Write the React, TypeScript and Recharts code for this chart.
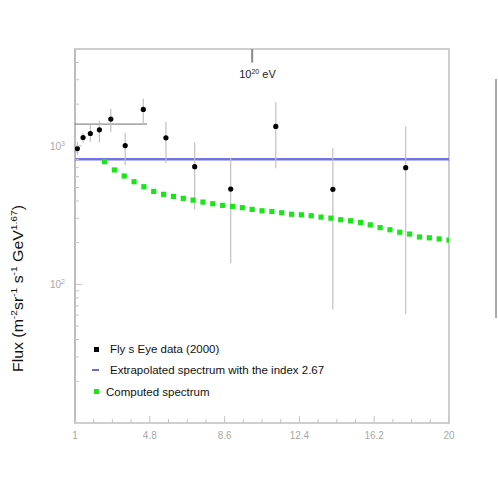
import { ComposedChart, Scatter, XAxis, YAxis, ErrorBar, ReferenceLine, ReferenceArea, Label } from "recharts"

// energy in units of 10^19 eV
const flyEnergy = [1.12, 1.41, 1.78, 2.24, 2.82, 3.55, 4.47, 5.62, 7.08, 8.91, 11.2, 14.1, 17.8]
const flyFlux = [956, 1149, 1228, 1306, 1561, 1005, 1833, 1143, 708, 488, 1380, 486, 696]
const flyLow = [861, 1051, 1069, 1057, 1263, 728, 1427, 749, 348, 142, 689, 66, 61]
const flyHigh = [1069, 1242, 1419, 1517, 1846, 1242, 2190, 1485, 1064, 823, 2060, 967, 1380]

const computedEnergy = [
  2.5, 3, 3.5, 4, 4.5, 5, 5.5, 6, 6.5, 7, 7.5, 8, 8.5, 9, 9.5, 10, 10.5, 11,
  11.5, 12, 12.5, 13, 13.5, 14, 14.5, 15, 15.5, 16, 16.5, 17, 17.5, 18, 18.5, 19, 19.5, 20,
]
const computedFlux = [
  769, 670, 606, 551, 507, 469, 447, 432, 418, 406, 393, 382, 372, 366, 358, 348, 340, 336,
  329, 321, 318, 313, 306, 301, 293, 288, 280, 269, 257, 248, 238, 231, 220, 217, 213, 209,
]

const extrapolatedFlux = 800
const oldFlux = 1436
const oldFluxEnd = 4.66
const markEnergy = 10

const xTicks = [1, 1.95, 2.9, 3.85, 4.8, 5.75, 6.7, 7.65, 8.6, 9.55, 10.5, 11.45, 12.4, 13.35, 14.3, 15.25, 16.2, 17.15, 18.1, 19.05, 20]
const xMajor = [1, 4.8, 8.6, 12.4, 16.2, 20]
const yTicks = [20, 30, 40, 50, 60, 70, 80, 90, 100, 200, 300, 400, 500, 600, 700, 800, 900, 1000, 2000, 3000, 4000]
const yMajor = [100, 1000]

const flyData = flyEnergy.map((x, i) => ({
  x,
  y: flyFlux[i],
  err: [flyFlux[i] - flyLow[i], flyHigh[i] - flyFlux[i]],
}))
const computedData = computedEnergy.map((x, i) => ({ x, y: computedFlux[i] }))

const font = "'Liberation Sans', Arial, sans-serif"

function XTick({ x, y, payload }: any) {
  const major = xMajor.includes(payload.value)
  return (
    <g>
      <line x1={x} x2={x} y1={y} y2={y - (major ? 7 : 4)} stroke="#c4c4c4" />
      {major && (
        <text x={x} y={y + 16} textAnchor="middle" fontSize={10} fill="#a8a8a8" fontFamily={font}>
          {payload.value}
        </text>
      )}
    </g>
  )
}

function YTick({ x, y, payload }: any) {
  const v = payload.value
  const major = yMajor.includes(v)
  return (
    <g>
      <line x1={x} x2={x + (major ? 7 : 4)} y1={y} y2={y} stroke="#c4c4c4" />
      {major && (
        <text x={x - 10} y={y + 4} textAnchor="end" fontSize={10} fill="#a8a8a8" fontFamily={font}>
          10<tspan dy={-4} fontSize={7}>{Math.round(Math.log10(v))}</tspan>
        </text>
      )}
    </g>
  )
}

function YLabel({ viewBox }: any) {
  const tx = viewBox.x + viewBox.width - 52
  const ty = viewBox.y + viewBox.height - 51
  return (
    <text
      transform={`translate(${tx},${ty}) rotate(-90)`}
      fontSize={14}
      fill="#111"
      fontFamily={font}
      textLength={167}
      lengthAdjust="spacingAndGlyphs"
    >
      Flux  (m
      <tspan dy={-6} fontSize={9}>-2</tspan>
      <tspan dy={6}>sr</tspan>
      <tspan dy={-6} fontSize={9}>-1</tspan>
      <tspan dy={6}> s</tspan>
      <tspan dy={-6} fontSize={9}>-1</tspan>
      <tspan dy={6}> GeV</tspan>
      <tspan dy={-6} fontSize={9}>1.67</tspan>
      <tspan dy={6}>)</tspan>
    </text>
  )
}

function MarkLabel({ viewBox }: any) {
  return (
    <text x={viewBox.x - 13} y={viewBox.y + viewBox.height + 15} fontSize={11} fill="#222" fontFamily={font}>
      10<tspan dy={-4} fontSize={7}>20</tspan>
      <tspan dy={4}> eV</tspan>
    </text>
  )
}

const Dot = (p: any) => <circle cx={p.cx} cy={p.cy} r={2.6} fill="#000" />
const Square = (p: any) => <rect x={p.cx - 2.6} y={p.cy - 2.6} width={5.2} height={5.2} fill="#19e619" />

const legendText = { position: "absolute" as const, fontSize: 11.5, color: "#111", lineHeight: "14px" }

export default function App() {
  return (
    <div style={{ position: "absolute", left: 0, top: 0, width: 498, height: 498, fontFamily: font, background: "#fff" }}>
      <ComposedChart width={498} height={498} margin={{ top: 49, right: 49, bottom: 74, left: 74 }}>
        <XAxis
          dataKey="x"
          type="number"
          domain={[1, 20]}
          ticks={xTicks}
          interval={0}
          height={1}
          tickSize={0}
          tickMargin={0}
          allowDataOverflow
          axisLine={false}
          tick={(p: any) => <XTick {...p} />}
        />
        <YAxis
          dataKey="y"
          type="number"
          scale="log"
          domain={[10, 5000]}
          ticks={yTicks}
          interval={0}
          width={1}
          tickSize={0}
          tickMargin={0}
          allowDataOverflow
          axisLine={false}
          tick={(p: any) => <YTick {...p} />}
          label={<Label content={YLabel} />}
        />
        <ReferenceArea x1={1} x2={20} y1={10} y2={5000} fill="none" stroke="#cfcfcf" strokeWidth={2} />
        <ReferenceLine
          segment={[{ x: 1, y: 10 }, { x: 1, y: 5000 }]}
          stroke="#bdbdbd"
          strokeWidth={2}
        />
        <ReferenceLine y={extrapolatedFlux} stroke="#7373e0" strokeWidth={2.5} />
        <ReferenceLine
          segment={[{ x: 1, y: oldFlux }, { x: oldFluxEnd, y: oldFlux }]}
          stroke="#6e6e6e"
          strokeWidth={1}
        />
        <ReferenceLine
          segment={[{ x: markEnergy, y: 3990 }, { x: markEnergy, y: 5000 }]}
          stroke="#8a8a8a"
          strokeWidth={2}
          label={<Label content={MarkLabel} />}
        />
        <Scatter data={flyData} dataKey="y" shape={Dot} isAnimationActive={false}>
          <ErrorBar dataKey="err" direction="y" width={0} stroke="#c0c0c0" strokeWidth={1.2} />
        </Scatter>
        <Scatter data={computedData} dataKey="y" shape={Square} isAnimationActive={false} />
      </ComposedChart>

      <div style={{ position: "absolute", left: 94, top: 347, width: 5, height: 5, background: "#000" }} />
      <div style={{ ...legendText, left: 110, top: 342 }}>Fly s Eye data (2000)</div>
      <div style={{ position: "absolute", left: 92, top: 369, width: 7, height: 1.5, background: "#6a6ae6" }} />
      <div style={{ ...legendText, left: 110, top: 363 }}>Extrapolated spectrum with the index 2.67</div>
      <div style={{ position: "absolute", left: 94, top: 389, width: 5, height: 5, background: "#19e619" }} />
      <div style={{ ...legendText, left: 106, top: 385 }}>Computed spectrum</div>

      <div style={{ position: "absolute", left: 495, top: 79, width: 1.5, height: 239, background: "#aaa" }} />
    </div>
  )
}
